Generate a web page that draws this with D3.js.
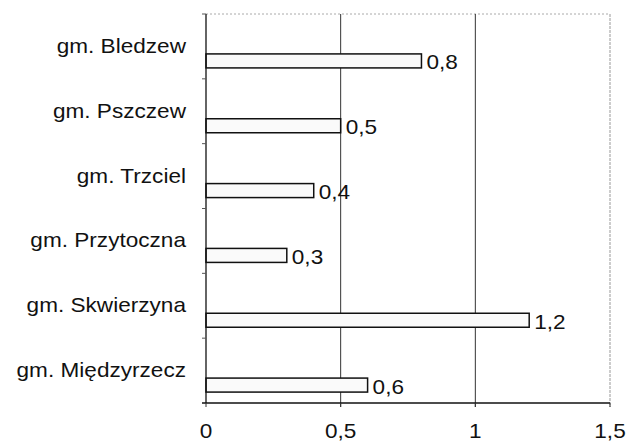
<!DOCTYPE html>
<html>
<head>
<meta charset="utf-8">
<script src="https://cdn.jsdelivr.net/npm/d3@7"></script>
<style>
  body { margin: 0; background: #fff; }
  svg { display: block; }
  text { font-family: "Liberation Sans", Arial, sans-serif; fill: #111; }
</style>
</head>
<body>
<div id="chart"></div>
<script>
const categories = ["gm. Bledzew", "gm. Pszczew", "gm. Trzciel", "gm. Przytoczna", "gm. Skwierzyna", "gm. Międzyrzecz"];
const values = [0.8, 0.5, 0.4, 0.3, 1.2, 0.6];
const ticks = [0, 0.5, 1, 1.5];

const width = 629;
const height = 444;
const plotLeft = 206, plotRight = 610, plotTop = 14, plotBottom = 403;
const fontSize = 20;
const stretch = 1.13; // scanned text is wider than tall

const fmt = v => String(v).replace(".", ",");

const svg = d3.select("#chart")
    .append("svg")
    .attr("width", width)
    .attr("height", height);

const x = d3.scaleLinear().domain([0, 1.5]).range([plotLeft, plotRight]);
const y = d3.scaleBand().domain(categories).range([plotTop, plotBottom]);

// stretched text helper
function label(g, tx, ty, str, anchor) {
    g.append("text")
        .attr("transform", `translate(${tx},${ty}) scale(${stretch},1)`)
        .attr("text-anchor", anchor)
        .attr("font-size", fontSize)
        .text(str);
}

// top border
svg.append("line")
    .attr("x1", plotLeft).attr("x2", plotRight)
    .attr("y1", plotTop).attr("y2", plotTop)
    .attr("stroke", "#aaa")
    .attr("stroke-dasharray", "2,2");

// gridlines
svg.selectAll(".grid")
    .data(ticks.slice(1, 3))
    .enter()
    .append("line")
    .attr("class", "grid")
    .attr("x1", d => x(d)).attr("x2", d => x(d))
    .attr("y1", plotTop).attr("y2", plotBottom + 4)
    .attr("stroke", "#333");

// right border at 1.5
svg.append("line")
    .attr("x1", x(1.5)).attr("x2", x(1.5))
    .attr("y1", plotTop).attr("y2", plotBottom + 4)
    .attr("stroke", "#999")
    .attr("stroke-dasharray", "3,1");

// bars
svg.selectAll(".bar")
    .data(values)
    .enter()
    .append("rect")
    .attr("class", "bar")
    .attr("x", x(0))
    .attr("y", (d, i) => y(categories[i]) + y.bandwidth() / 2 + 7.5)
    .attr("width", d => x(d) - x(0))
    .attr("height", 14)
    .attr("fill", "#fafafa")
    .attr("stroke", "#111")
    .attr("stroke-width", 1.5);

// value labels
const vals = svg.append("g");
values.forEach((v, i) => {
    label(vals, x(v) + 5, y(categories[i]) + y.bandwidth() / 2 + 23, fmt(v), "start");
});

// axes lines
svg.append("line")
    .attr("x1", plotLeft).attr("x2", plotLeft)
    .attr("y1", plotTop).attr("y2", plotBottom)
    .attr("stroke", "#111").attr("stroke-width", 1.3);
svg.append("line")
    .attr("x1", plotLeft - 4).attr("x2", plotRight)
    .attr("y1", plotBottom).attr("y2", plotBottom)
    .attr("stroke", "#111").attr("stroke-width", 1.3);

// y ticks at band boundaries
svg.selectAll(".ytick")
    .data(categories)
    .enter()
    .append("line")
    .attr("x1", plotLeft - 4).attr("x2", plotLeft)
    .attr("y1", d => y(d)).attr("y2", d => y(d))
    .attr("stroke", "#555");

// x ticks
svg.selectAll(".xtick")
    .data(ticks)
    .enter()
    .append("line")
    .attr("x1", d => x(d)).attr("x2", d => x(d))
    .attr("y1", plotBottom).attr("y2", plotBottom + 4)
    .attr("stroke", "#333");

// category labels
const cats = svg.append("g");
categories.forEach(c => {
    label(cats, 186, y(c) + y.bandwidth() / 2 + 6.5, c, "end");
});

// x tick labels
const xl = svg.append("g");
ticks.forEach(t => {
    label(xl, x(t), 438, fmt(t), "middle");
});
</script>
</body>
</html>
